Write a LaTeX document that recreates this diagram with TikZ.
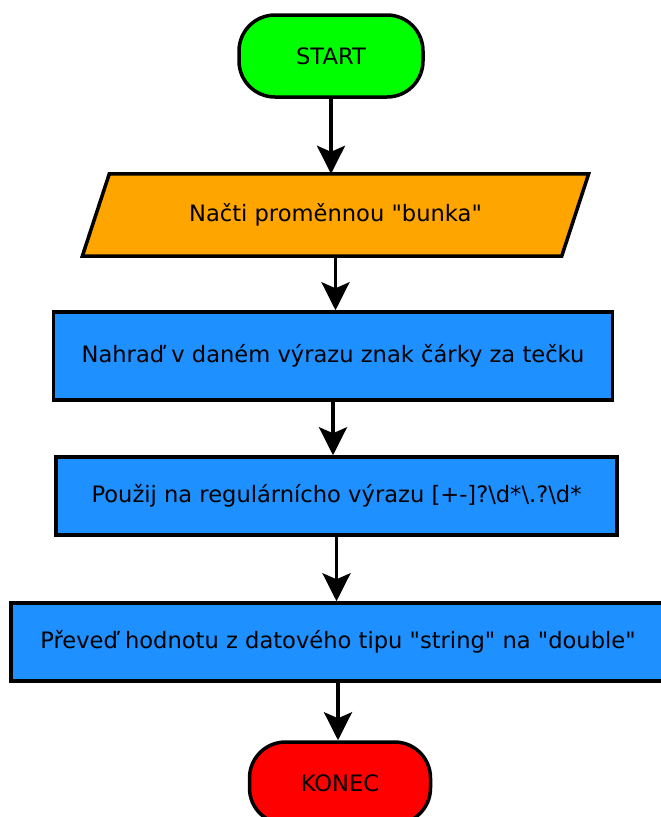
\documentclass[tikz,border=0pt]{standalone}
\usepackage{fontspec}
\setmainfont{DejaVu Sans}[Ligatures=TeXOff]
\usetikzlibrary{arrows.meta, backgrounds}

\definecolor{startgreen}{RGB}{0,255,0}
\definecolor{ioorange}{RGB}{255,165,0}
\definecolor{procblue}{RGB}{30,144,255}
\definecolor{endred}{RGB}{255,0,0}

\begin{document}
\begin{tikzpicture}[x=1pt, y=-1pt,
        every node/.style={font=\fontsize{22.6}{27}\selectfont, text=black},
        terminal/.style={rectangle, rounded corners=36pt, draw, line width=3.5pt, minimum height=82pt},
        inout/.style={rectangle, minimum height=82pt}, % outline drawn behind, slanted
        process/.style={rectangle, draw, line width=3.5pt, fill=procblue},
        flow/.style={-{Stealth[length=28pt, width=28pt, inset=6pt]}, line width=3.5pt}]
        \useasboundingbox (0,0) rectangle (661,817); % page frame

        \node [terminal, fill=startgreen, minimum width=184pt] (start) at (331,56) {START};
        \node [inout, minimum width=479pt] (read) at (335.5,215) {Načti proměnnou "bunka"};
        \node [process, minimum width=559pt, minimum height=88pt] (replace) at (333,356) {Nahraď v daném výrazu znak čárky za tečku};
        \node [process, minimum width=561pt, minimum height=78pt] (regex) at (336.5,496) {Použij na regulárnícho výrazu [+-]?\textbackslash d*\textbackslash .?\textbackslash d*};
        \node [process, minimum width=654pt, minimum height=78pt] (convert) at (338,642) {Převeď hodnotu z datového tipu "string" na "double"};
        \node [terminal, fill=endred, minimum width=181pt] (stop) at (340,783) {KONEC};

        \begin{scope}[on background layer]
            \fill [white] (0,0) rectangle (661,817);
            % parallelogram round the input node
            \draw [fill=ioorange, line width=3.5pt]
                ([xshift=13.5pt]read.north west) -- ([xshift=13.5pt]read.north east)
                -- ([xshift=-13.5pt]read.south east) -- ([xshift=-13.5pt]read.south west) -- cycle;
        \end{scope}

        % arrows straight down from each box
        \draw [flow] (start) -- (start |- read.north);
        \draw [flow] (read) -- (read |- replace.north);
        \draw [flow] (replace) -- (replace |- regex.north);
        \draw [flow] (regex) -- (regex |- convert.north);
        \draw [flow] (convert) -- (convert |- stop.north);
    \end{tikzpicture}
\end{document}
